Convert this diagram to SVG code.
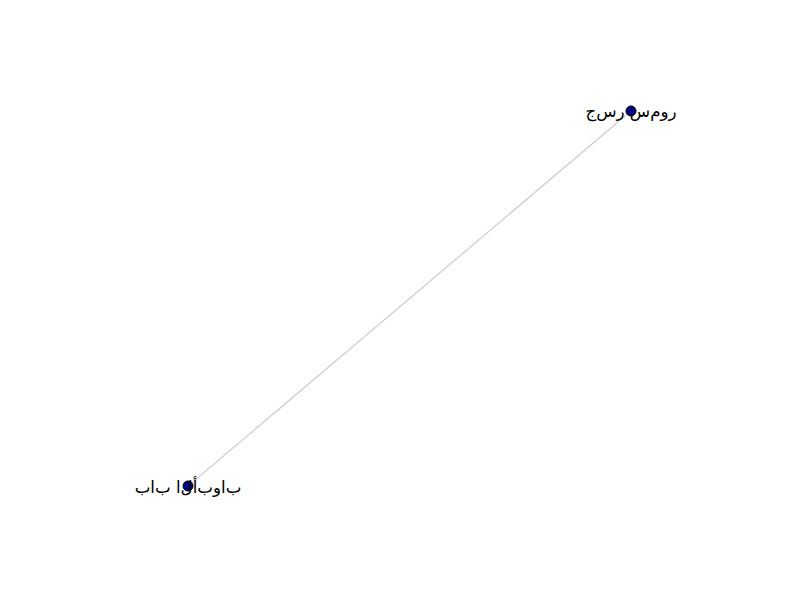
<svg xmlns="http://www.w3.org/2000/svg" width="800" height="600" viewBox="0 0 800 600">
<style>
.edge{stroke:#cccccc;stroke-width:1.2;fill:none}
.node circle{fill:#000080;stroke:#000000;stroke-width:1}
.node text{font-family:"DejaVu Sans",sans-serif;font-size:16.67px;fill:#000000;text-anchor:middle;dominant-baseline:central;direction:ltr;unicode-bidi:bidi-override;font-feature-settings:"init" 0,"medi" 0,"fina" 0,"rlig" 0,"liga" 0,"calt" 0}
</style>
<rect width="800" height="600" fill="#ffffff"/>
<g id="edges">
<line class="edge" x1="631" y1="111" x2="188" y2="486"/>
</g>
<g id="node-jisr-samur" class="node">
<circle cx="631" cy="111" r="5"/>
<text x="631" y="111" direction="ltr" unicode-bidi="bidi-override">جسر سمور</text>
</g>
<g id="node-bab-al-abwab" class="node">
<circle cx="188" cy="486" r="5"/>
<text x="188" y="487" direction="ltr" unicode-bidi="bidi-override">باب الأبواب</text>
</g>
</svg>
